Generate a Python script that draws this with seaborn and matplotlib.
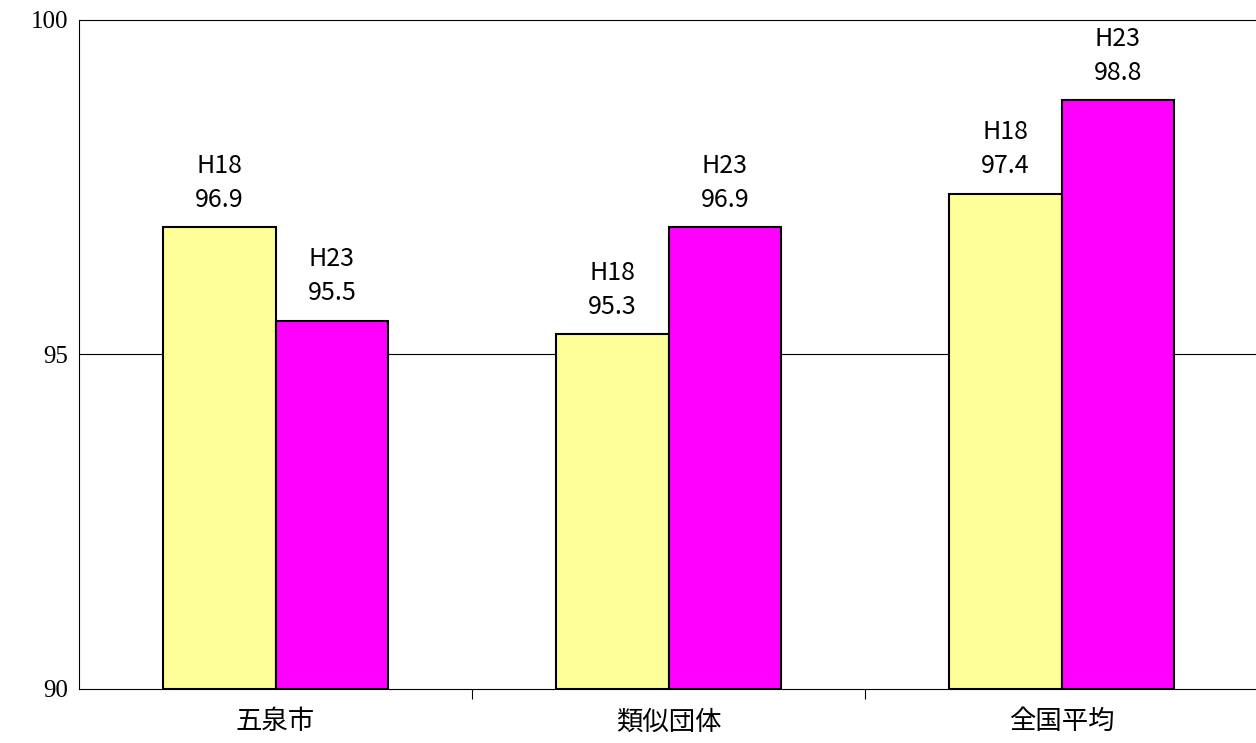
import matplotlib
matplotlib.use("Agg")
import matplotlib.pyplot as plt
from matplotlib.ticker import FixedLocator
import seaborn as sns
import pandas as pd

categories = ["五泉市", "類似団体", "全国平均"]
years = ["H18", "H23"]
h18 = [96.9, 95.3, 97.4]
h23 = [95.5, 96.9, 98.8]

sns.set_style("white")
plt.rcParams['font.family'] = ['Noto Sans CJK JP', 'DejaVu Sans']

df = pd.DataFrame({
    "cat": categories * 2,
    "year": [years[0]] * 3 + [years[1]] * 3,
    "val": h18 + h23,
})

fig = plt.figure(figsize=(12.56, 7.43), dpi=100)
ax = fig.add_axes([0.0629, 0.0727, 0.9387, 0.9004])
sns.barplot(data=df, x="cat", y="val", hue="year", order=categories, hue_order=years,
            palette=["#FFFF99", "#FF00FF"], saturation=1, edgecolor="black", linewidth=1.5,
            width=0.575, gap=0, ax=ax, legend=False)
for p in ax.patches:
    h = p.get_height()
    p.set_y(90)
    p.set_height(h - 90)

ax.set_ylim(90, 100)
ax.set_xlim(-0.5, 2.5)
ax.set_yticks([90, 95, 100])
ax.set_yticklabels(["90", "95", "100"], family="Liberation Serif", fontsize=18)
ax.axhline(95, color="black", lw=0.8, zorder=0)
ax.axhline(100, color="black", lw=0.8, zorder=0, clip_on=False)
ax.set_xticks([0, 1, 2])
ax.set_xticklabels(categories, fontsize=19, color="black", family=["Noto Sans CJK JP"])
ax.xaxis.set_minor_locator(FixedLocator([0.5, 1.5]))
ax.tick_params(axis="x", which="major", length=0, pad=14)
ax.tick_params(axis="x", which="minor", bottom=True, length=7, width=0.8,
               direction="out", color="black")
ax.tick_params(axis="y", length=0, pad=8, labelcolor="black")
ax.set_xlabel("")
ax.set_ylabel("")
for s in ["top", "right"]:
    ax.spines[s].set_visible(False)
ax.spines["left"].set_color("black")
ax.spines["bottom"].set_color("black")

offs = [-0.1437, 0.1437]
for j, (yr, vals) in enumerate(zip(years, [h18, h23])):
    for i, v in enumerate(vals):
        ax.text(i + offs[j], v + 0.22, f"{yr}\n{v:.1f}", ha="center", va="bottom",
                fontsize=18, linespacing=1.4, color="black")

fig.savefig("out.png", dpi=100)
